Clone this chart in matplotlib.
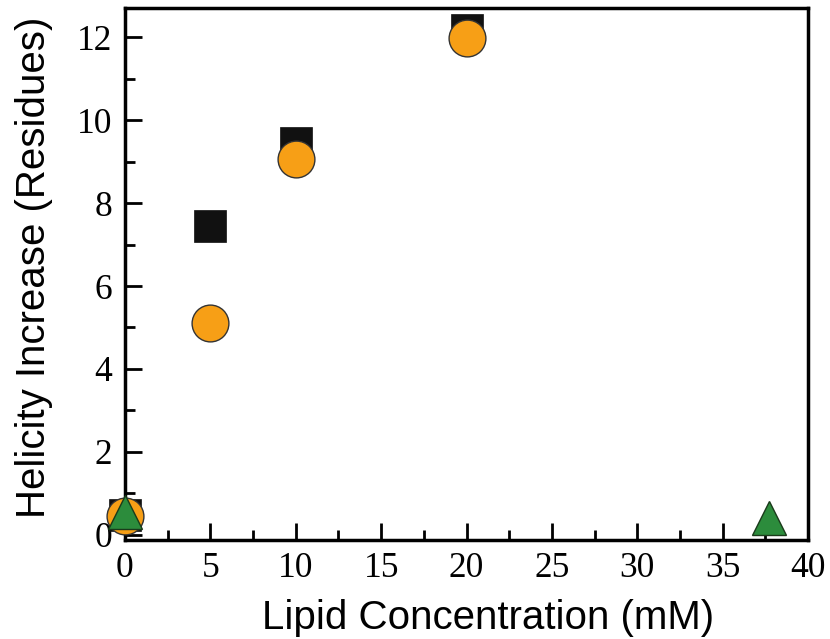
import numpy as np
import matplotlib.pyplot as plt
from matplotlib.ticker import MultipleLocator

# data
sq_x = [0, 5, 10, 20]
sq_y = [0.48, 7.45, 9.45, 12.17]
ci_x = [0, 5, 10, 20]
ci_y = [0.46, 5.1, 9.05, 11.98]
tr_x = [0, 37.7]
tr_y = [0.55, 0.4]

fig = plt.figure(figsize=(8.3, 6.39), dpi=100)
ax = fig.add_axes([0.1506, 0.155, 0.8229, 0.8325])

ax.plot(sq_x, sq_y, 's', ms=23, color='#111111', mec='#111111', mew=0.5, clip_on=False, zorder=3)
ax.plot(ci_x, ci_y, 'o', ms=26.5, color='#F79F16', mec='#333333', mew=1.0, clip_on=False, zorder=4)
ax.plot(tr_x, tr_y, '^', ms=25, color='#2C8C3C', mec='#1a3a1a', mew=1.0, clip_on=False, zorder=5)

ax.set_xlim(0, 40)
ax.set_ylim(-0.12, 12.7)
ax.xaxis.set_major_locator(MultipleLocator(5))
ax.xaxis.set_minor_locator(MultipleLocator(2.5))
ax.yaxis.set_major_locator(MultipleLocator(2))
ax.yaxis.set_minor_locator(MultipleLocator(1))

for s in ax.spines.values():
    s.set_linewidth(2.5)
ax.tick_params(which='both', direction='in', width=2, top=False, right=False)
ax.tick_params(which='major', length=12, pad=9)
ax.tick_params(which='minor', length=7)
for lab in ax.get_xticklabels() + ax.get_yticklabels():
    lab.set_fontfamily('Liberation Serif')
    lab.set_fontsize(25.5)

ax.set_xlabel('Lipid Concentration (mM)', family='Liberation Sans', fontsize=29, labelpad=9.5)
ax.set_ylabel('Helicity Increase (Residues)', family='Liberation Sans', fontsize=29, labelpad=17)
# labels in the original sit a little off-centre
ax.xaxis.label.set_x(0.532)
ax.yaxis.label.set_y(0.513)

fig.savefig('out.png', dpi=100)
